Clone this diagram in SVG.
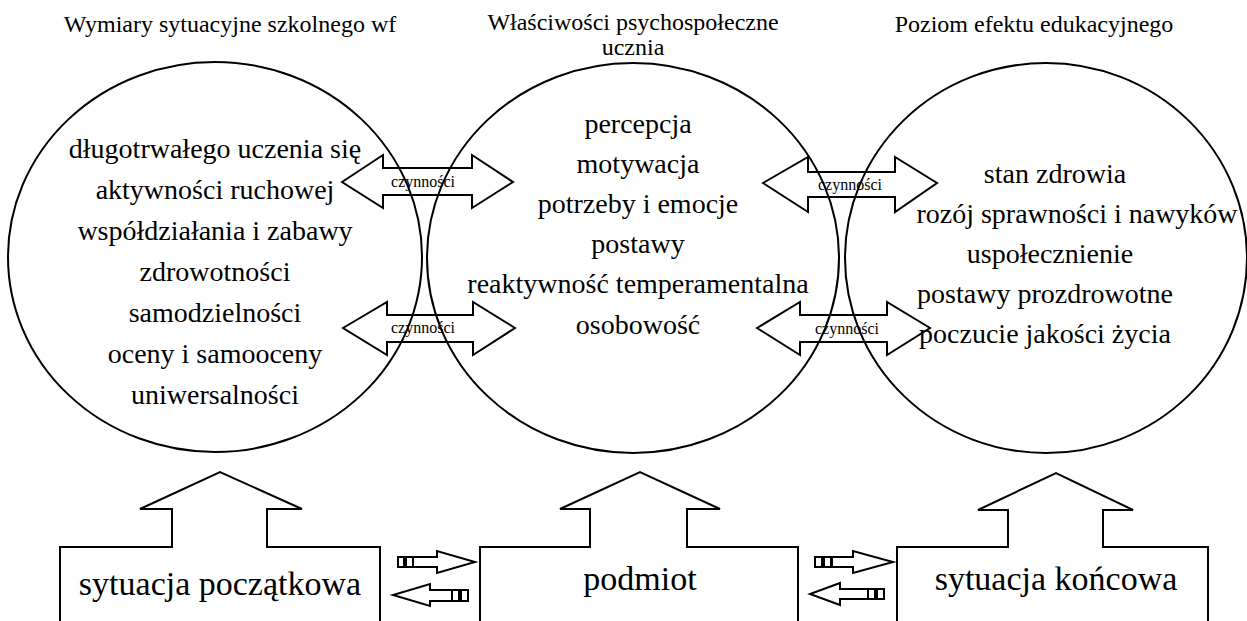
<svg xmlns="http://www.w3.org/2000/svg" width="1247" height="621" viewBox="0 0 1247 621">
<style>
text{font-family:'Liberation Serif','Times New Roman',serif;fill:#000;text-anchor:middle}
.title{font-size:24px}
.lbl{font-size:28px}
.box{font-size:34px}
.cz{font-size:16px}
.ln{fill:none;stroke:#000;stroke-width:2}
.sm{fill:none;stroke:#000;stroke-width:2}
</style>
<rect width="1247" height="621" fill="#fff"/>
<g font-family="Liberation Serif, serif">
<text class="title" x="230" y="32">Wymiary sytuacyjne szkolnego wf</text>
<text class="title" x="633" y="30">Właściwości psychospołeczne</text>
<text class="title" x="633" y="55">ucznia</text>
<text class="title" x="1034" y="32">Poziom efektu edukacyjnego</text>
</g>

<g id="circle-left" font-family="Liberation Serif, serif">
<ellipse class="ln" cx="215" cy="257" rx="207" ry="195"/>
<text class="lbl" x="215" y="158">długotrwałego uczenia się</text>
<text class="lbl" x="215" y="199">aktywności ruchowej</text>
<text class="lbl" x="215" y="240">współdziałania i zabawy</text>
<text class="lbl" x="215" y="281">zdrowotności</text>
<text class="lbl" x="215" y="322">samodzielności</text>
<text class="lbl" x="215" y="363">oceny i samooceny</text>
<text class="lbl" x="215" y="404">uniwersalności</text>
</g>
<g id="circle-center" font-family="Liberation Serif, serif">
<ellipse class="ln" cx="633" cy="258" rx="206" ry="195"/>
<text class="lbl" x="638" y="133">percepcja</text>
<text class="lbl" x="638" y="173">motywacja</text>
<text class="lbl" x="638" y="213">potrzeby i emocje</text>
<text class="lbl" x="638" y="253">postawy</text>
<text class="lbl" x="638" y="293">reaktywność temperamentalna</text>
<text class="lbl" x="638" y="334">osobowość</text>
</g>
<g id="circle-right" font-family="Liberation Serif, serif">
<ellipse class="ln" cx="1046" cy="258" rx="201" ry="195"/>
<text class="lbl" x="1055" y="183">stan zdrowia</text>
<text class="lbl" x="1077" y="223" font-size="25">rozój sprawności i nawyków</text>
<text class="lbl" x="1050" y="263">uspołecznienie</text>
<text class="lbl" x="1045" y="303">postawy prozdrowotne</text>
<text class="lbl" x="1045" y="343">poczucie jakości życia</text>
</g>

<g id="box-left" font-family="Liberation Serif, serif">
<path class="ln" d="M60,625 L60,547 L172,547 L172,509 L140,509 L220,472 L302,509 L267,509 L267,547 L380,547 L380,625"/>
<text class="box" x="220" y="595">sytuacja początkowa</text>
</g>
<g id="box-center" font-family="Liberation Serif, serif">
<path class="ln" d="M480,625 L480,547 L590,547 L590,509 L560,509 L640,472 L720,509 L687,509 L687,547 L798,547 L798,625"/>
<text class="box" x="640" y="590" font-size="35">podmiot</text>
</g>
<g id="box-right" font-family="Liberation Serif, serif">
<path class="ln" d="M897,625 L897,547 L1008,547 L1008,510 L978,510 L1056,473 L1133,510 L1103,510 L1103,547 L1208,547 L1208,625"/>
<text class="box" x="1056" y="590">sytuacja końcowa</text>
</g>

<g id="connectors" font-family="Liberation Serif, serif">
<path class="ln" d="M342,182 L383,155 L383,168 L472,168 L472,155 L513,182 L472,208 L472,195 L383,195 L383,208 Z"/>
<text class="cz" x="423" y="187">czynności</text>
<path class="ln" d="M343,328 L387,302 L387,315 L473,315 L473,302 L515,328 L473,355 L473,342 L387,342 L387,355 Z"/>
<text class="cz" x="423" y="333">czynności</text>
<path class="ln" d="M763,183 L808,157 L808,172 L895,172 L895,157 L937,183 L895,212 L895,197 L808,197 L808,212 Z"/>
<text class="cz" x="850" y="190">czynności</text>
<path class="ln" d="M757,328 L800,302 L800,315 L887,315 L887,302 L930,328 L887,355 L887,342 L800,342 L800,355 Z"/>
<text class="cz" x="847" y="334">czynności</text>

<path class="sm" d="M413,557 L437,557 L437,551 L475,562 L437,573 L437,567 L413,567 Z"/>
<rect class="sm" x="398" y="557" width="6" height="10"/>
<rect class="sm" x="406" y="557" width="7" height="10"/>
<path class="sm" d="M452,590 L430,590 L430,584 L393,595 L430,606 L430,601 L452,601 Z"/>
<rect class="sm" x="452" y="590" width="7" height="11"/>
<rect class="sm" x="461" y="590" width="7" height="11"/>

<path class="sm" d="M832,557 L853,557 L853,551 L893,562 L853,573 L853,567 L832,567 Z"/>
<rect class="sm" x="815" y="557" width="7" height="10"/>
<rect class="sm" x="824" y="557" width="7" height="10"/>
<path class="sm" d="M868,589 L840,589 L840,583 L810,594 L840,605 L840,599 L868,599 Z"/>
<rect class="sm" x="868" y="589" width="7" height="10"/>
<rect class="sm" x="877" y="589" width="7" height="10"/>
</g>
</svg>
